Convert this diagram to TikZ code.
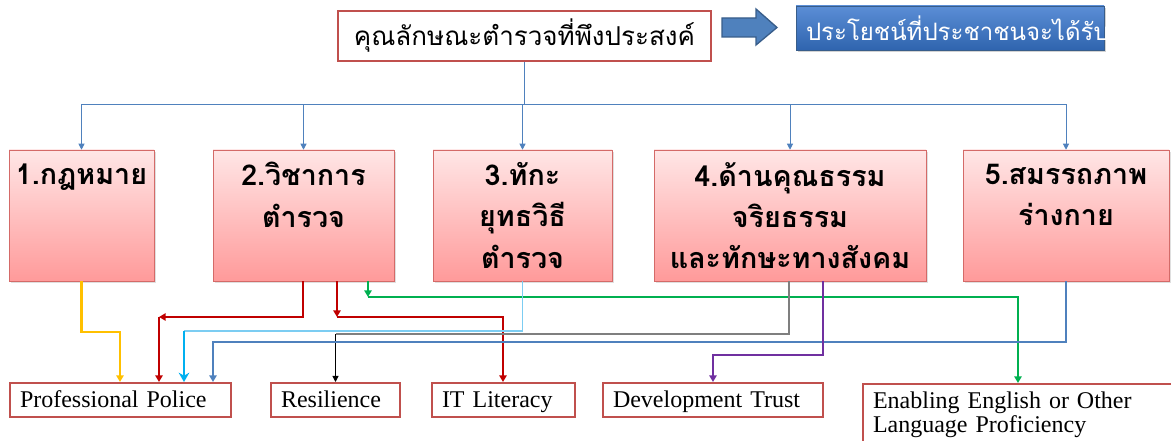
\documentclass[tikz,border=0pt]{standalone}
\usepackage{fontspec}
\setmainfont{Liberation Serif}
\newfontfamily\thaifont[Script=Thai]{Loma}
\usepackage{tikz}
\usetikzlibrary{positioning,shadows}
\usetikzlibrary{calc}
\usetikzlibrary{arrows.meta}

\definecolor{boxred}{HTML}{C0504D}
\definecolor{qtop}{HTML}{FFE6E6}
\definecolor{qbot}{HTML}{FF9A9A}
\definecolor{qedge}{HTML}{D46A68}
\definecolor{feedblue}{HTML}{4F81BD}
\definecolor{arrowedge}{HTML}{385D8A}
\definecolor{bentop}{HTML}{5B8ED6}
\definecolor{benbot}{HTML}{2F64AE}
\definecolor{lyellow}{HTML}{FFC000}
\definecolor{lred}{HTML}{C00000}
\definecolor{lgreen}{HTML}{00B050}
\definecolor{lcyan}{HTML}{00B0F0}
\definecolor{lcyanthin}{HTML}{7CCDF2}
\definecolor{lgray}{HTML}{7F7F7F}
\definecolor{lblue}{HTML}{4F81BD}
\definecolor{lpurple}{HTML}{7030A0}

\begin{document}
\begin{tikzpicture}[x=0.75pt,y=-0.75pt]
		\tikzset{
			boxsize/.style 2 args={minimum width=#1*0.75pt,minimum height=#2*0.75pt},
			headbox/.style={draw=boxred,line width=1.5pt,fill=white,inner sep=0pt,font=\thaifont\fontsize{19.5}{23}\selectfont},
			benefitbox/.style={draw=arrowedge,top color=bentop,bottom color=benbot,text=white,inner ysep=0pt,inner xsep=7.5pt,align=left,
				font=\thaifont\fontsize{18}{20}\selectfont,drop shadow={opacity=.35,shadow xshift=1.5pt,shadow yshift=-1.5pt}},
			qbox/.style={draw=qedge,top color=qtop,bottom color=qbot,align=center,inner sep=0pt,
				font=\thaifont\bfseries\fontsize{21.5}{31}\selectfont,drop shadow={opacity=.25,shadow xshift=1.5pt,shadow yshift=-1.5pt}},
			outbox/.style={draw=boxred,line width=1.5pt,fill=white,inner ysep=0pt,inner xsep=7.5pt,align=left,
				text height=13.5pt,text depth=3pt,font=\fontsize{18}{18}\selectfont},
			feed/.style={feedblue,line width=0.75pt,-{Triangle[length=4.5pt,width=4.5pt]}},
			link/.style={line width=1.6pt,-{Triangle[length=5pt,width=5.5pt]}},
		}
		\useasboundingbox (0,0) rectangle (1171,441);

		% top row
		\node[headbox,boxsize={373}{50}] (head) at (524.5,36) {คุณลักษณะตำรวจที่พึงประสงค์};
		\draw[draw=arrowedge,fill=feedblue,line width=1pt] (722,18) -- (756,18) -- (756,9) -- (777,27.5) -- (756,45) -- (756,37) -- (722,37) -- cycle;
		\node[benefitbox,boxsize={308}{44},text width=216pt] (benefit) at (950,28) {ประโยชน์ที่ประชาชนจะได้รับ};

		% qualities
		\node[qbox,boxsize={145}{131}] (q1) at (81.5,215.5) {1.กฎหมาย\\~\\~};
		\node[qbox,boxsize={181}{131}] (q2) at (303.5,215.5) {2.วิชาการ\\ตำรวจ\\~};
		\node[qbox,boxsize={179}{131}] (q3) at (522.5,215.5) {3.ทักะ\\ยุทธวิธี\\ตำรวจ};
		\node[qbox,boxsize={272}{131}] (q4) at (790,215.5) {4.ด้านคุณธรรม\\จริยธรรม\\และทักษะทางสังคม};
		\node[qbox,boxsize={206}{131}] (q5) at (1066,215.5) {5.สมรรถภาพ\\ร่างกาย\\~};

		\coordinate (hub) at (head.south |- 0,105);
		\draw[feedblue,line width=0.75pt] (head.south) -- (hub);
		\foreach \i in {1,...,5}{
				\draw[feed] (hub) -| (q\i.north);
			}

		% outcomes
		\node[outbox,boxsize={221}{34},text width=150.75pt] (pro) at (120.5,400) {Professional Police};
		\node[outbox,boxsize={129}{34},text width=81.75pt] (res) at (335.5,400) {Resilience};
		\node[outbox,boxsize={143}{34},text width=92.25pt] (it) at (503.5,400) {IT Literacy};
		\node[outbox,boxsize={220}{34},text width=150pt] (dev) at (713,400) {Development Trust};
		\node[outbox,boxsize={330}{62},anchor=north west,text width=240pt,text height=,text depth=] (eng) at (862,383) {Enabling English or Other\\Language Proficiency};

		\coordinate (redL) at (159,317);
		\coordinate (redR) at (337,317);
		\coordinate (grn) at (368,297);
		\coordinate (cyn) at (184,331);
		\coordinate (gry) at (res.north |- 0,334);

		\draw[link,lyellow] (q1.south) |- (120,332) -- (pro.north -| 120,0);
		\draw[link,lred] (q2.south -| 303,0) |- (redL);
		\draw[link,lred] (redL) -- (pro.north -| redL);
		\draw[link,lred] (q2.south -| redR) -- (redR);
		\draw[link,lred] (redR) -| (it.north -| 503,0);
		\draw[link,lgreen] (q2.south -| grn) -- (grn);
		\draw[link,lgreen] (grn) -| (eng.north -| 1018,0);
		\draw[lcyanthin,line width=1pt] (q3.south) |- (cyn);
		\draw[lcyan,line width=1.6pt,-{Stealth[length=7pt,width=8pt]}] (cyn) -- (pro.north -| cyn);
		\draw[lgray,line width=1pt] (q4.south -| 789,0) |- (gry);
		\draw[black,line width=0.75pt,-{Triangle[length=4.5pt,width=4.5pt]}] (gry) -- (res.north);
		\draw[link,lblue] (q5.south) |- (213,342) -- (pro.north -| 213,0);
		\draw[link,lpurple] (q4.south -| 823,0) |- (dev.north |- 0,355) -- (dev.north);
	\end{tikzpicture}
\end{document}
